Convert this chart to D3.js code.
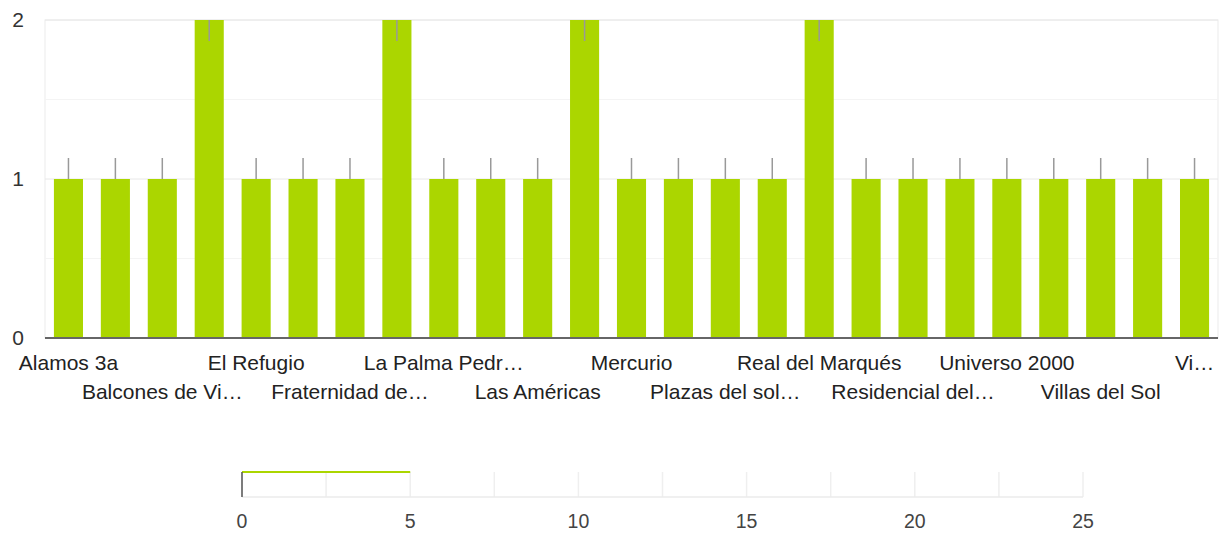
<!DOCTYPE html>
<html>
<head>
<meta charset="utf-8">
<script src="https://cdn.jsdelivr.net/npm/d3@7"></script>
<style>
  body { margin: 0; background: #fff; }
  text { font-family: "Liberation Sans", Arial, sans-serif; }
</style>
</head>
<body>
<svg id="chart"></svg>
<script>
const width = 1230;
const height = 533;

// labels as displayed (odd ones are hidden by the axis)
const categories = [
  "Alamos 3a", "Arboledas", "Balcones de Vi…", "Centro", "El Refugio",
  "Estrella", "Fraternidad de…", "Jardines", "La Palma Pedr…", "Las Aguilas",
  "Las Américas", "Loma Bonita", "Mercurio", "Paseos", "Plazas del sol…",
  "Quintas", "Real del Marqués", "Reforma", "Residencial del…", "San Pablo",
  "Universo 2000", "Villa Real", "Villas del Sol", "Villas de Santiago", "Vi…"
];
const values = [1, 1, 1, 2, 1, 1, 1, 2, 1, 1, 1, 2, 1, 1, 1, 1, 2, 1, 1, 1, 1, 1, 1, 1, 1];
const yTicks = [0, 1, 2];
const yMinorTicks = [0.5, 1.5];

const rangeTicks = [0, 5, 10, 15, 20, 25];
const rangeGrid = d3.range(0, 25.1, 2.5);
const rangeSpan = [0, 5];

const green = "#abd600";

const svg = d3.select("#chart")
  .attr("width", width)
  .attr("height", height)

const margin = { left: 45, right: 12, top: 20, bottom: 195 };

const x = d3.scaleBand()
  .domain(categories)
  .range([margin.left, width - margin.right])
  .paddingInner(0.38)
  .paddingOuter(0.19);

const y = d3.scaleLinear()
  .domain([0, 2])
  .range([height - margin.bottom, margin.top]);

// frame + gridlines
svg.append("rect")
  .attr("x", margin.left)
  .attr("y", margin.top)
  .attr("width", width - margin.right - margin.left)
  .attr("height", y(0) - margin.top)
  .attr("fill", "none")
  .attr("stroke", "#ebebeb");

svg.append("g")
  .selectAll("line")
  .data(yMinorTicks)
  .join("line")
  .attr("x1", margin.left)
  .attr("x2", width - margin.right)
  .attr("y1", d => y(d))
  .attr("y2", d => y(d))
  .attr("stroke", "#f4f4f4");

svg.append("g")
  .selectAll("line")
  .data(yTicks.filter(d => d > 0))
  .join("line")
  .attr("x1", margin.left)
  .attr("x2", width - margin.right)
  .attr("y1", d => y(d))
  .attr("y2", d => y(d))
  .attr("stroke", "#e8e8e8");

// bars
svg.append("g")
  .selectAll("rect")
  .data(values)
  .join("rect")
  .attr("x", (d, i) => x(categories[i]))
  .attr("y", d => y(d))
  .attr("width", x.bandwidth())
  .attr("height", d => y(0) - y(d))
  .attr("fill", green);

// little stems on top of each bar (go inside the bar when clipped by the top)
const stem = 21;
svg.append("g")
  .selectAll("line")
  .data(values)
  .join("line")
  .attr("x1", (d, i) => x(categories[i]) + x.bandwidth() / 2)
  .attr("x2", (d, i) => x(categories[i]) + x.bandwidth() / 2)
  .attr("y1", d => y(d))
  .attr("y2", d => y(d) - stem < margin.top ? y(d) + stem : y(d) - stem)
  .attr("stroke", "#999")
  .attr("stroke-width", 1.5);

// baseline
svg.append("line")
  .attr("x1", margin.left)
  .attr("x2", width - margin.right)
  .attr("y1", y(0))
  .attr("y2", y(0))
  .attr("stroke", "#666")
  .attr("stroke-width", 2);

// y labels
svg.append("g")
  .selectAll("text")
  .data(yTicks)
  .join("text")
  .attr("x", 24)
  .attr("y", d => y(d) + 7)
  .attr("text-anchor", "end")
  .attr("font-size", 21)
  .attr("fill", "#333")
  .text(d => d);

// x labels, every other one, staggered on two rows
svg.append("g")
  .selectAll("text")
  .data(categories.filter((d, i) => i % 2 === 0))
  .join("text")
  .attr("x", d => x(d) + x.bandwidth() / 2)
  .attr("y", (d, i) => i % 2 === 0 ? 370 : 399)
  .attr("text-anchor", "middle")
  .attr("font-size", 21)
  .attr("fill", "#222")
  .text(d => d);

// lower strip
const x2 = d3.scaleLinear()
  .domain([0, 25])
  .range([242, 1083]);
const stripTop = 472;
const stripBottom = 497;

svg.append("g")
  .selectAll("line")
  .data(rangeGrid)
  .join("line")
  .attr("x1", d => x2(d))
  .attr("x2", d => x2(d))
  .attr("y1", stripTop)
  .attr("y2", stripBottom)
  .attr("stroke", "#efefef")
  .attr("stroke-width", 1.5);

svg.append("line")
  .attr("x1", x2(0))
  .attr("x2", x2(25))
  .attr("y1", stripBottom)
  .attr("y2", stripBottom)
  .attr("stroke", "#ebebeb")
  .attr("stroke-width", 1.5);

svg.append("rect")
  .attr("x", x2(rangeSpan[0]))
  .attr("y", stripTop - 1)
  .attr("width", x2(rangeSpan[1]) - x2(rangeSpan[0]))
  .attr("height", 2)
  .attr("fill", green);

svg.append("line")
  .attr("x1", x2(0))
  .attr("x2", x2(0))
  .attr("y1", stripTop)
  .attr("y2", stripBottom)
  .attr("stroke", "#555")
  .attr("stroke-width", 1.5);

svg.append("g")
  .selectAll("text")
  .data(rangeTicks)
  .join("text")
  .attr("x", d => x2(d))
  .attr("y", 528)
  .attr("text-anchor", "middle")
  .attr("font-size", 19.5)
  .attr("fill", "#444")
  .text(d => d);
</script>
</body>
</html>
